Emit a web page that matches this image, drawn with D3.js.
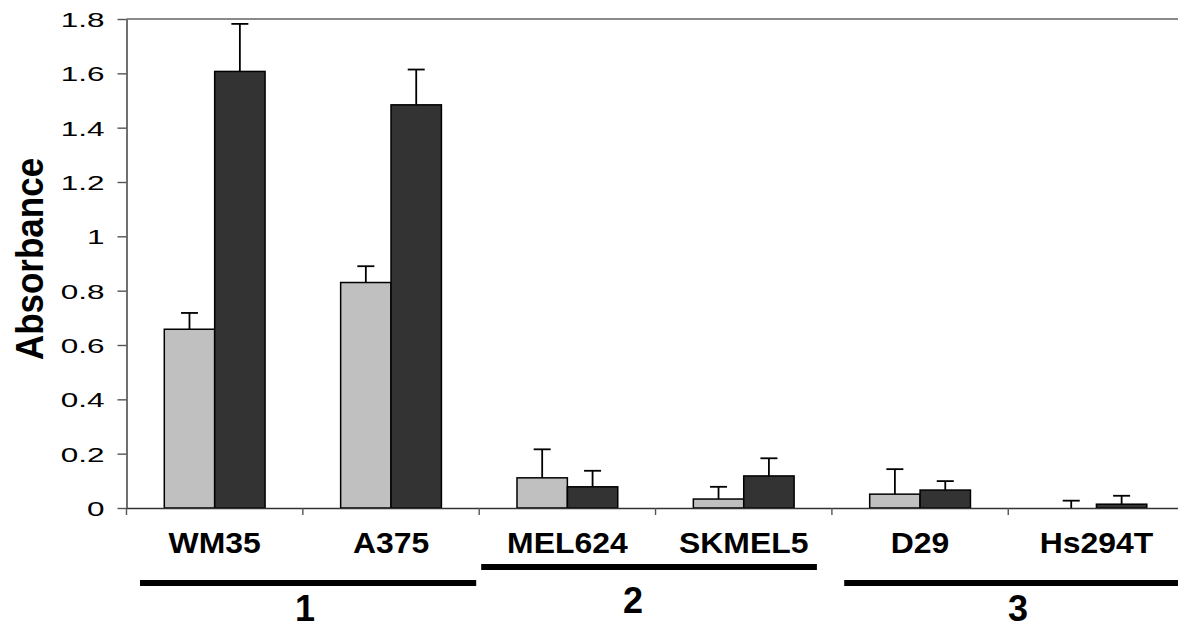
<!DOCTYPE html>
<html>
<head>
<meta charset="utf-8">
<script src="https://cdn.jsdelivr.net/npm/d3@7"></script>
<style>
  body { margin: 0; background: #fff; }
  svg { display: block; font-family: "Liberation Sans", Arial, sans-serif; }
</style>
</head>
<body>
<div id="chart"></div>
<script>
// values
const categories = ["WM35", "A375", "MEL624", "SKMEL5", "D29", "Hs294T"];
const lightValues = [0.658, 0.830, 0.111, 0.033, 0.051, 0];
const lightErrors = [0.060, 0.060, 0.105, 0.045, 0.092, 0.027];
const darkValues = [1.607, 1.484, 0.078, 0.118, 0.066, 0.014];
const darkErrors = [0.175, 0.130, 0.059, 0.065, 0.033, 0.031];
const yTicks = [0, 0.2, 0.4, 0.6, 0.8, 1, 1.2, 1.4, 1.6, 1.8];
const groupLabels = ["1", "2", "3"];
const groupFirst = ["WM35", "MEL624", "D29"];
const groupLast = ["A375", "SKMEL5", "Hs294T"];

const width = 1178, height = 628;
const marginLeft = 126.5, marginTop = 19, baseline = 508;
const bandWidth = 176.35; // last band runs past the right edge

// group bar/label placement (px offsets, the original annotation is hand drawn)
const groupLayout = [
  { x0: 13.5, x1: -3, lineY: 75, labelX: -3, labelY: 113 },
  { x0: 2, x1: -15, lineY: 59, labelX: -16, labelY: 105 },
  { x0: 12.3, x1: -3, lineY: 75, labelX: 5, labelY: 113 }
];

const x = d3.scaleBand()
  .domain(categories)
  .range([marginLeft, marginLeft + bandWidth * categories.length])
  .paddingInner(0).paddingOuter(0);

const xSub = d3.scaleBand()
  .domain(["light", "dark"])
  .range([0, x.bandwidth()])
  .paddingInner(0).paddingOuter(0.75);

const y = d3.scaleLinear().domain([0, 1.8]).range([baseline, marginTop]);

const svg = d3.select("#chart").append("svg")
  .attr("width", width)
  .attr("height", height)
  .attr("viewBox", [0, 0, width, height]);

// top line at 1.8
svg.append("line")
  .attr("x1", marginLeft).attr("x2", width)
  .attr("y1", y(1.8)).attr("y2", y(1.8))
  .attr("stroke", "#8a8a8a").attr("stroke-width", 2);

// y axis
svg.append("g")
  .attr("transform", `translate(${marginLeft},0)`)
  .call(d3.axisLeft(y).tickValues(yTicks).tickFormat(d => String(d)).tickSize(9).tickSizeOuter(0))
  .call(g => g.select(".domain").attr("stroke", "#333").attr("stroke-width", 1.4))
  .call(g => g.selectAll(".tick line").attr("stroke", "#555").attr("stroke-width", 1.4))
  .call(g => g.selectAll(".tick text")
    .attr("x", 0)
    .attr("dy", "0.36em")
    .attr("transform", "translate(-22,0) scale(1.5,1)")
    .attr("font-size", 21)
    .attr("fill", "#000"));

// y label
svg.append("text")
  .attr("transform", "translate(43,259) rotate(-90) scale(1,1.1)")
  .attr("text-anchor", "middle")
  .attr("font-size", 35)
  .attr("font-weight", "bold")
  .text("Absorbance");

// bars
const series = [
  { key: "light", values: lightValues, errors: lightErrors, fill: "#c0c0c0" },
  { key: "dark", values: darkValues, errors: darkErrors, fill: "#333333" }
];

const rows = series.flatMap(s => categories.map((c, i) => ({
  key: s.key, cat: c, value: s.values[i], err: s.errors[i], fill: s.fill
})));

svg.append("g")
  .selectAll("rect")
  .data(rows.filter(d => d.value > 0))
  .join("rect")
  .attr("x", d => x(d.cat) + xSub(d.key))
  .attr("y", d => y(d.value))
  .attr("width", xSub.bandwidth())
  .attr("height", d => y(0) - y(d.value))
  .attr("fill", d => d.fill)
  .attr("stroke", "#000")
  .attr("stroke-width", 1.5);

// error bars (upper only)
const capHalf = 8.5;
const errG = svg.append("g").attr("stroke", "#000").attr("stroke-width", 1.8);
errG.selectAll("line.stem")
  .data(rows)
  .join("line")
  .attr("class", "stem")
  .attr("x1", d => x(d.cat) + xSub(d.key) + xSub.bandwidth() / 2)
  .attr("x2", d => x(d.cat) + xSub(d.key) + xSub.bandwidth() / 2)
  .attr("y1", d => y(d.value))
  .attr("y2", d => y(d.value + d.err));
errG.selectAll("line.cap")
  .data(rows)
  .join("line")
  .attr("class", "cap")
  .attr("x1", d => x(d.cat) + xSub(d.key) + xSub.bandwidth() / 2 - capHalf)
  .attr("x2", d => x(d.cat) + xSub(d.key) + xSub.bandwidth() / 2 + capHalf)
  .attr("y1", d => y(d.value + d.err))
  .attr("y2", d => y(d.value + d.err));

// x axis, labels centred in bands, ticks at band boundaries
svg.append("g")
  .attr("transform", `translate(0,${baseline})`)
  .call(d3.axisBottom(x).tickSize(0).tickSizeOuter(0))
  .call(g => g.select(".domain").attr("stroke", "#333").attr("stroke-width", 1.4))
  .call(g => g.selectAll(".tick text")
    .attr("y", 0).attr("dy", 0)
    .attr("transform", "translate(0,44.5) scale(1.1,1)")
    .attr("font-size", 29)
    .attr("font-weight", "bold")
    .attr("fill", "#000"));

svg.append("g")
  .attr("stroke", "#555").attr("stroke-width", 1.4)
  .selectAll("line")
  .data(categories)
  .join("line")
  .attr("x1", d => x(d)).attr("x2", d => x(d))
  .attr("y1", baseline).attr("y2", baseline + 7);

// group annotations
groupLabels.forEach((lab, i) => {
  const L = groupLayout[i];
  const x0 = x(groupFirst[i]) + L.x0;
  const x1 = x(groupLast[i]) + x.bandwidth() + L.x1;
  svg.append("line")
    .attr("x1", x0).attr("x2", x1)
    .attr("y1", baseline + L.lineY).attr("y2", baseline + L.lineY)
    .attr("stroke", "#000").attr("stroke-width", 6);
  svg.append("text")
    .attr("x", (x0 + x1) / 2 + L.labelX)
    .attr("y", baseline + L.labelY)
    .attr("text-anchor", "middle")
    .attr("font-size", 36)
    .attr("font-weight", "bold")
    .text(lab);
});
</script>
</body>
</html>
